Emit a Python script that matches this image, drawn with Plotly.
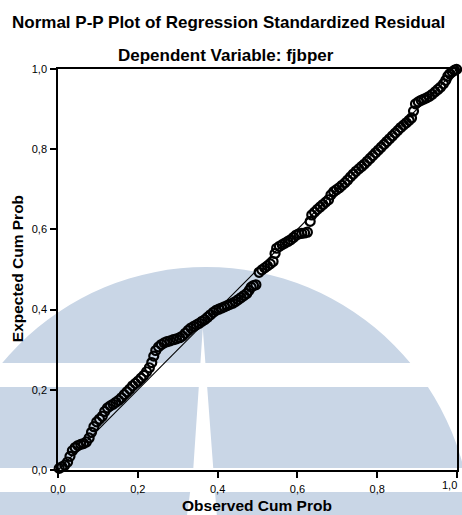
import plotly.graph_objects as go

# Observed cumulative probability (x) and expected cumulative probability (y)
observed = [0.003, 0.010, 0.017, 0.024, 0.030, 0.036, 0.043, 0.050, 0.057, 0.064,
            0.071, 0.078, 0.084, 0.090, 0.097, 0.104, 0.111, 0.117, 0.124, 0.131,
            0.138, 0.145, 0.152, 0.159, 0.166, 0.173, 0.180, 0.187, 0.194, 0.201,
            0.208, 0.215, 0.222, 0.229, 0.235, 0.240, 0.245, 0.252, 0.259, 0.266,
            0.273, 0.281, 0.289, 0.297, 0.305, 0.312, 0.319, 0.326, 0.333, 0.340,
            0.347, 0.354, 0.361, 0.368, 0.375, 0.382, 0.389, 0.396, 0.403, 0.410,
            0.417, 0.424, 0.431, 0.438, 0.445, 0.452, 0.459, 0.466, 0.473, 0.479,
            0.484, 0.490, 0.496, 0.504, 0.511, 0.518, 0.525, 0.532, 0.539, 0.544,
            0.548, 0.555, 0.562, 0.569, 0.576, 0.583, 0.590, 0.597, 0.604, 0.611,
            0.618, 0.625, 0.632, 0.636, 0.643, 0.650, 0.657, 0.664, 0.671, 0.678,
            0.684, 0.691, 0.698, 0.705, 0.712, 0.719, 0.726, 0.733, 0.740, 0.747,
            0.754, 0.761, 0.768, 0.775, 0.782, 0.789, 0.796, 0.803, 0.810, 0.817,
            0.824, 0.831, 0.838, 0.845, 0.852, 0.859, 0.866, 0.873, 0.880, 0.886,
            0.891, 0.896, 0.903, 0.910, 0.917, 0.924, 0.931, 0.938, 0.945, 0.952,
            0.959, 0.966, 0.972, 0.977, 0.982, 0.988, 0.994, 0.999]
expected = [0.004, 0.008, 0.012, 0.020, 0.034, 0.048, 0.056, 0.061, 0.064, 0.066,
            0.070, 0.080, 0.094, 0.108, 0.120, 0.127, 0.134, 0.146, 0.155, 0.160,
            0.164, 0.169, 0.174, 0.180, 0.188, 0.195, 0.202, 0.210, 0.216, 0.222,
            0.229, 0.236, 0.245, 0.255, 0.268, 0.284, 0.298, 0.307, 0.313, 0.317,
            0.320, 0.322, 0.325, 0.327, 0.330, 0.334, 0.341, 0.348, 0.354, 0.358,
            0.362, 0.366, 0.371, 0.375, 0.381, 0.387, 0.393, 0.398, 0.401, 0.404,
            0.407, 0.410, 0.413, 0.416, 0.420, 0.425, 0.430, 0.435, 0.440, 0.448,
            0.456, 0.460, 0.462, 0.493, 0.499, 0.504, 0.509, 0.514, 0.520, 0.540,
            0.553, 0.558, 0.562, 0.566, 0.570, 0.574, 0.580, 0.586, 0.589, 0.590,
            0.591, 0.593, 0.620, 0.636, 0.643, 0.650, 0.656, 0.662, 0.668, 0.674,
            0.686, 0.694, 0.699, 0.704, 0.710, 0.716, 0.723, 0.731, 0.738, 0.745,
            0.751, 0.757, 0.763, 0.770, 0.777, 0.784, 0.791, 0.798, 0.805, 0.812,
            0.819, 0.826, 0.833, 0.840, 0.847, 0.854, 0.860, 0.866, 0.872, 0.878,
            0.895, 0.913, 0.918, 0.922, 0.925, 0.928, 0.932, 0.937, 0.943, 0.949,
            0.955, 0.963, 0.972, 0.982, 0.988, 0.993, 0.997, 0.999]
ref_line = [0.0, 1.0]
tick_vals = [0.0, 0.2, 0.4, 0.6, 0.8, 1.0]
tick_text = ["0,0", "0,2", "0,4", "0,6", "0,8", "1,0"]

W, H = 462, 515
L, R, T, B = 58, 3, 69, 45
PW, PH = W - L - R, H - T - B

def px(x):
    return (x - L) / PW

def py(y):
    return (H - B - y) / PH

fig = go.Figure()
fig.add_trace(go.Scatter(x=ref_line, y=ref_line, mode="lines",
                         line=dict(color="black", width=1.2),
                         showlegend=False, hoverinfo="skip"))
fig.add_trace(go.Scatter(x=observed, y=expected, mode="markers",
                         marker=dict(symbol="circle-open", size=9, color="black",
                                     line=dict(color="black", width=2.2)),
                         cliponaxis=False, showlegend=False))

wm = "#c9d6e6"
shapes = [
    dict(type="circle", xref="paper", yref="paper",
         x0=px(207 - 267), x1=px(207 + 267), y0=py(534 + 267), y1=py(534 - 267),
         fillcolor=wm, line=dict(width=0), layer="below"),
    dict(type="rect", xref="paper", yref="paper",
         x0=px(-5), x1=px(W + 5), y0=py(387), y1=py(363),
         fillcolor="white", line=dict(width=0), layer="below"),
    dict(type="rect", xref="paper", yref="paper",
         x0=px(-5), x1=px(W + 5), y0=py(492), y1=py(468),
         fillcolor="white", line=dict(width=0), layer="below"),
    dict(type="path", xref="paper", yref="paper",
         path="M {:.5f},{:.5f} L {:.5f},{:.5f} L {:.5f},{:.5f} L {:.5f},{:.5f} L {:.5f},{:.5f} Z".format(
             px(203.5), py(328), px(214), py(468), px(218), py(520),
             px(187), py(520), px(194), py(468)),
         fillcolor="white", line=dict(width=0), layer="below"),
]

annotations = [
    dict(text="<b>Normal P-P Plot of Regression Standardized Residual</b>",
         xref="paper", yref="paper", x=px(229), y=py(22.5), showarrow=False,
         xanchor="center", yanchor="middle", font=dict(size=17, color="black")),
    dict(text="<b>Dependent Variable: fjbper</b>",
         xref="paper", yref="paper", x=px(227), y=py(56), showarrow=False,
         xanchor="center", yanchor="middle", font=dict(size=17, color="black")),
    dict(text="<b>Observed Cum Prob</b>",
         xref="paper", yref="paper", x=px(257.5), y=py(505), showarrow=False,
         xanchor="center", yanchor="middle", font=dict(size=15.5, color="black")),
    dict(text="<b>Expected Cum Prob</b>",
         xref="paper", yref="paper", x=px(17), y=py(269), showarrow=False,
         textangle=-90, xanchor="center", yanchor="middle",
         font=dict(size=15.5, color="black")),
    dict(text=tick_text[-1], xref="paper", yref="paper", x=px(461), y=py(485),
         showarrow=False, xanchor="right", yanchor="middle",
         font=dict(size=11, color="black")),
]

axis_common = dict(range=[0, 1], showgrid=False, zeroline=False, showline=True,
                   mirror=True, linecolor="black", linewidth=1.5,
                   ticks="outside", ticklen=6, tickwidth=1.5, tickcolor="black",
                   tickvals=tick_vals, tickfont=dict(size=11, color="black"))

fig.update_layout(
    width=W, height=H,
    margin=dict(l=L, r=R, t=T, b=B, pad=0),
    paper_bgcolor="white", plot_bgcolor="rgba(0,0,0,0)",
    font=dict(family="Liberation Sans, Arial, sans-serif", color="black"),
    xaxis=dict(**axis_common, ticktext=tick_text[:-1] + [""], ticklabelstandoff=2),
    yaxis=dict(**axis_common, ticktext=tick_text, ticklabelstandoff=1),
    shapes=shapes, annotations=annotations,
)

fig.write_html("out.html")
